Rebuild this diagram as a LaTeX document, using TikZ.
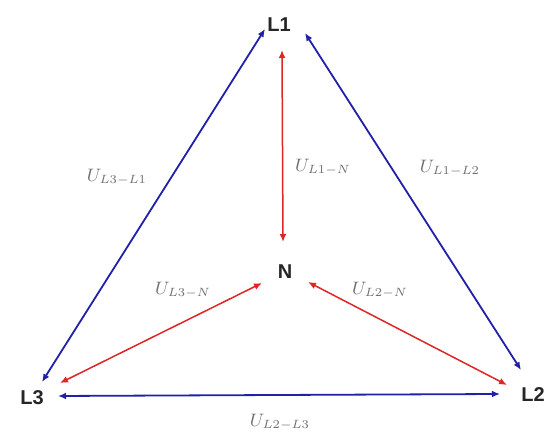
\documentclass[tikz,border=0pt]{standalone}
\usepackage{fontspec}
\setsansfont{Liberation Sans}
\usepackage{xcolor}
\usepackage{tikz}
\usetikzlibrary{arrows.meta}
\definecolor{LineBlue}{RGB}{32,32,168}
\definecolor{NeutralRed}{RGB}{222,38,38}
\definecolor{LabelGray}{RGB}{112,112,112}

\begin{document}
\begin{tikzpicture}[
  x=0.5pt, y=-0.5pt,
  phase/.style={inner sep=0pt, font=\fontsize{10}{11}\selectfont\sffamily\bfseries, text=black!85},
  volt/.style={inner sep=0pt, text=LabelGray, font=\fontsize{9}{10}\selectfont},
  lineline/.style={{Latex[length=4pt,width=3.4pt]}-{Latex[length=4pt,width=3.4pt]}, line width=0.9pt, draw=LineBlue},
  lineneutral/.style={{Latex[length=4pt,width=3.4pt]}-{Latex[length=4pt,width=3.4pt]}, line width=0.75pt, draw=NeutralRed}
]
\useasboundingbox (0,0) rectangle (559,432);

\node[phase] (L1) at (279,25) {L1};
\node[phase] (L2) at (533,395) {L2};
\node[phase] (L3) at (32,398) {L3};
\node[phase] (N) at (285,272) {N};

\draw[lineline] ([shift={(-14,4)}]L1.center) -- ([shift={(10,-16)}]L3.center);
\draw[lineline] ([shift={(26,8)}]L1.center) -- ([shift={(-12,-25)}]L2.center);
\draw[lineline] ([shift={(26,-2)}]L3.center) -- ([shift={(-33,-1)}]L2.center);

\draw[lineneutral] ([shift={(3,25)}]L1.center) -- ([shift={(-2,-30)}]N.center);
\draw[lineneutral] ([shift={(-23,11)}]N.center) -- ([shift={(28,-15)}]L3.center);
\draw[lineneutral] ([shift={(23,10)}]N.center) -- ([shift={(-26,-10)}]L2.center);

\node[volt] (u31) at (117,177) {$U_{L3-L1}$};
\node[volt] (u1n) at (323,167) {$U_{L1-N}$};
\node[volt] (u12) at (450,168) {$U_{L1-L2}$};
\node[volt] (u3n) at (183,290) {$U_{L3-N}$};
\node[volt] (u2n) at (380,290) {$U_{L2-N}$};
\node[volt] (u23) at (280,422) {$U_{L2-L3}$};
\end{tikzpicture}
\end{document}
